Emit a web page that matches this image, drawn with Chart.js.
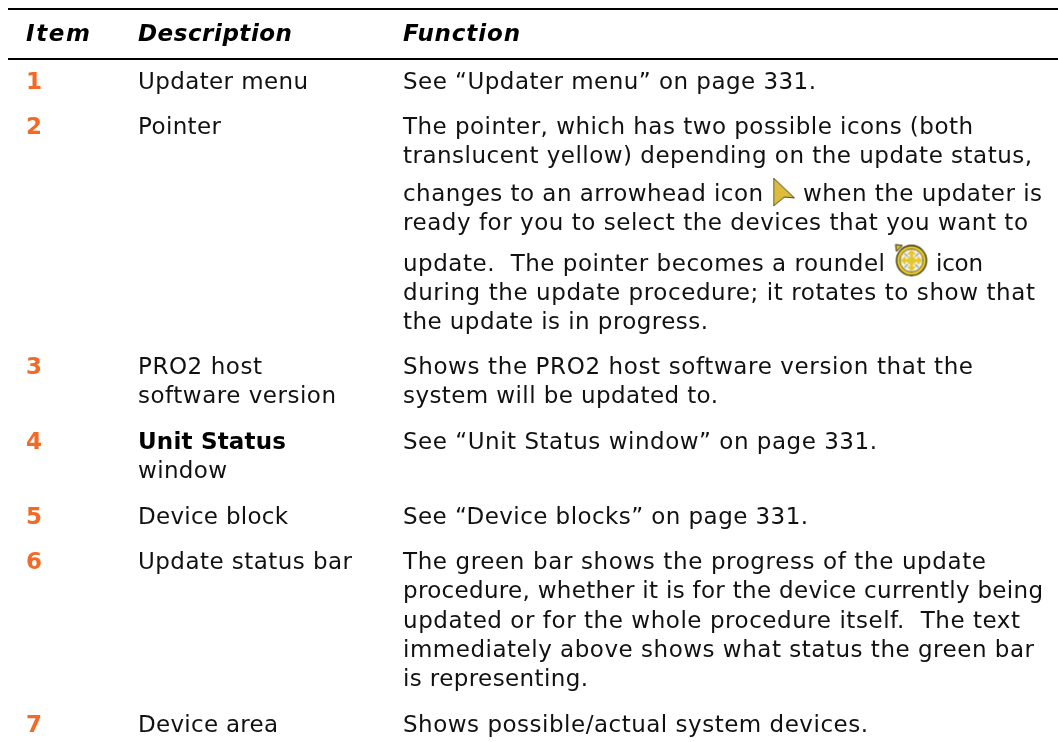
<!DOCTYPE html>
<html>
<head>
<meta charset="utf-8">
<title>Item table</title>
<script src="https://cdn.jsdelivr.net/npm/chart.js@4/dist/chart.umd.min.js"></script>
<style>
html, body { margin: 0; padding: 0; background: #fff; }
#wrap { width: 1058px; height: 742px; }
</style>
</head>
<body>
<div id="wrap"><canvas id="table"></canvas></div>
<script>
// table text
var headers = ['Item', 'Description', 'Function'];
var items = ['1', '2', '3', '4', '5', '6', '7'];
var descriptions = ['Updater menu', 'Pointer', 'PRO2 host', 'software version', 'Unit Status', 'window', 'Device block', 'Update status bar', 'Device area'];
var functions = [
    'See \u201cUpdater menu\u201d on page 331.',
    'The pointer, which has two possible icons (both',
    'translucent yellow) depending on the update status,',
    'changes to an arrowhead icon',
    'when the updater is',
    'ready for you to select the devices that you want to',
    'update.  The pointer becomes a roundel',
    'icon',
    'during the update procedure; it rotates to show that',
    'the update is in progress.',
    'Shows the PRO2 host software version that the',
    'system will be updated to.',
    'See \u201cUnit Status window\u201d on page 331.',
    'See \u201cDevice blocks\u201d on page 331.',
    'The green bar shows the progress of the update',
    'procedure, whether it is for the device currently being',
    'updated or for the whole procedure itself.  The text',
    'immediately above shows what status the green bar',
    'is representing.',
    'Shows possible/actual system devices.'
];

// baselines
var headerRows = [41, 41, 41];
var itemRows = [89, 134, 374, 449, 524, 569, 732];
var descriptionRows = [89, 134, 374, 403, 449, 478, 524, 569, 732];
var functionRows = [89, 134, 163, 201, 201, 230, 271, 271, 300, 329, 374, 403, 449, 524, 569, 598, 628, 657, 686, 732];
var ruleRows = [9, 59];

// left edge and right end of each text line
var headerCols = [26, 138, 403];
var headerEnds = [90, 292, 520];
var descriptionEnds = [308, 221, 262, 336, 286, 227, 288, 352, 278];
var functionCols = [403, 403, 403, 403, 803, 403, 403, 936, 403, 403, 403, 403, 403, 403, 403, 403, 403, 403, 403, 403];
var functionEnds = [816, 973, 1032, 763, 1042, 1028, 885, 983, 1035, 708, 973, 718, 877, 808, 986, 1043, 1020, 1034, 588, 868];

var BODY = '23px "DejaVu Sans"';
var DARK = '#111111';

function column(texts, rows, cols, ends, font, color) {
    return {
        data: texts.map(function(t, i) {
            return {
                x: cols.length ? cols[i] : cols,
                y: rows[i],
                text: t,
                end: ends ? ends[i] : null,
                font: font,
                color: color
            };
        }),
        pointRadius: 0,
        showLine: false
    };
}

// arrowhead and roundel, used as point styles
function arrowIcon() {
    var c = document.createElement('canvas');
    c.width = 23; c.height = 30;
    var g = c.getContext('2d');
    g.beginPath();
    g.moveTo(1, 1); g.lineTo(22, 21); g.lineTo(12, 20); g.lineTo(1, 29); g.closePath();
    g.fillStyle = '#dcbc3c';
    g.fill();
    g.strokeStyle = '#4c4428';
    g.lineWidth = 1;
    g.stroke();
    return c;
}

function roundelIcon() {
    var c = document.createElement('canvas');
    c.width = 35; c.height = 35;
    var g = c.getContext('2d');
    var m = 18;
    g.beginPath(); g.moveTo(2, 2); g.lineTo(9, 3); g.lineTo(3, 9); g.closePath();
    g.fillStyle = '#d8b82a'; g.fill();
    g.strokeStyle = '#3a3210'; g.stroke();
    g.beginPath(); g.arc(m, m, 15, 0, Math.PI * 2);
    g.fillStyle = '#e6c826'; g.fill();
    g.strokeStyle = '#2e2808'; g.lineWidth = 1.3; g.stroke();
    g.beginPath(); g.arc(m, m, 11.5, 0, Math.PI * 2);
    g.fillStyle = '#f4f2ea'; g.fill();
    g.strokeStyle = '#6a6030'; g.lineWidth = 1; g.stroke();
    g.fillStyle = '#e6c628';
    g.beginPath(); g.arc(m, m, 4, 0, Math.PI * 2); g.fill();
    for (var i = 0; i < 4; i++) {
        g.save();
        g.translate(m, m);
        g.rotate(i * Math.PI / 2);
        g.fillStyle = '#e6c628';
        g.fillRect(-1.5, -7, 3, 4);
        g.beginPath();
        g.moveTo(0, -11); g.lineTo(4.5, -6); g.lineTo(-4.5, -6); g.closePath();
        g.fill();
        g.restore();
        g.save();
        g.translate(m, m);
        g.rotate(Math.PI / 4 + i * Math.PI / 2);
        g.fillStyle = '#8c8878';
        g.fillRect(-0.5, -10, 1, 5);
        g.restore();
    }
    return c;
}

// draws each point's text at the position the scales give it,
// spaced so the line ends where it does in the source
var cellText = {
    id: 'cellText',
    afterDatasetsDraw: function(chart) {
        var ctx = chart.ctx;
        ctx.save();
        ctx.textBaseline = 'alphabetic';
        ctx.textAlign = 'left';
        chart.data.datasets.forEach(function(ds, n) {
            var meta = chart.getDatasetMeta(n);
            ds.data.forEach(function(p, i) {
                if (!p.text) return;
                ctx.font = p.font;
                ctx.letterSpacing = '0px';
                if (p.end) {
                    var gap = (p.end - p.x - ctx.measureText(p.text).width) / (p.text.length - 1);
                    ctx.letterSpacing = gap.toFixed(3) + 'px';
                }
                ctx.fillStyle = p.color;
                ctx.fillText(p.text, meta.data[i].x, meta.data[i].y);
            });
        });
        ctx.restore();
    }
};

var descColumn = column(descriptions, descriptionRows, 138, descriptionEnds, BODY, DARK);
descColumn.data[4].font = 'bold 23px "DejaVu Sans"';
descColumn.data[4].color = '#000000';

new Chart(document.getElementById('table'), {
    type: 'scatter',
    data: {
        datasets: [
            column(headers, headerRows, headerCols, headerEnds, 'italic bold 23px "DejaVu Sans"', '#000000'),
            column(items, itemRows, 26, null, 'bold 23px "DejaVu Sans"', '#f26a26'),
            descColumn,
            column(functions, functionRows, functionCols, functionEnds, BODY, DARK),
            {
                data: [{ x: 784, y: 192 }],
                pointStyle: arrowIcon(),
                pointRadius: 10
            },
            {
                data: [{ x: 911, y: 260 }],
                pointStyle: roundelIcon(),
                pointRadius: 10
            }
        ]
    },
    options: {
        responsive: true,
        maintainAspectRatio: false,
        animation: false,
        layout: { autoPadding: false, padding: { left: 8, right: 0, top: 0, bottom: 0 } },
        plugins: { legend: { display: false }, tooltip: { enabled: false } },
        scales: {
            x: { type: 'linear', min: 8, max: 1058, display: false },
            y: {
                type: 'linear',
                reverse: true,
                min: 0,
                max: 742,
                ticks: { display: false },
                afterBuildTicks: function(axis) {
                    axis.ticks = ruleRows.map(function(v) { return { value: v }; });
                },
                grid: { color: '#000000', lineWidth: 2, drawTicks: false },
                border: { display: false }
            }
        }
    },
    plugins: [cellText]
});
</script>
</body>
</html>
